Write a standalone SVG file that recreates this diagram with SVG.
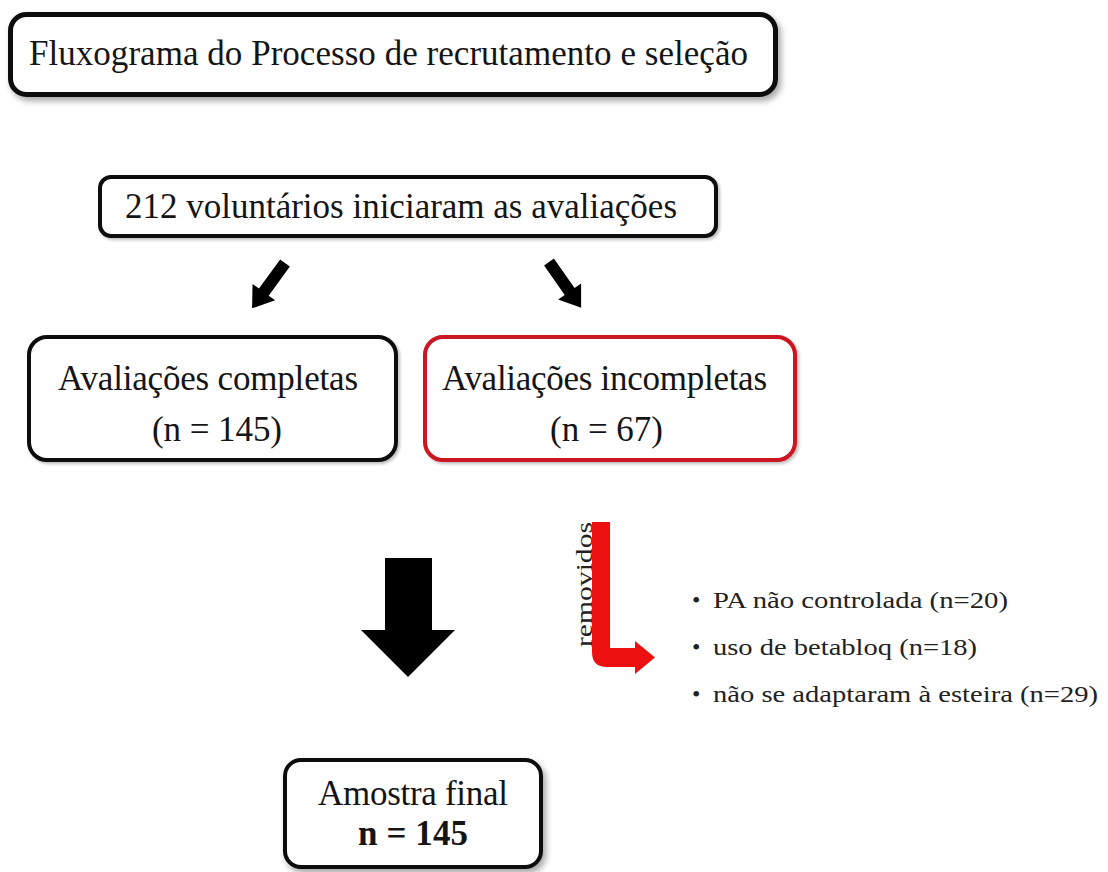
<svg xmlns="http://www.w3.org/2000/svg" width="1108" height="872" viewBox="0 0 1108 872">
  <style>
    .box { fill: #ffffff; stroke: #111111; stroke-width: 4; }
    .red { fill: #ffffff; stroke: #cc1420; stroke-width: 4; }
    .t { font-family: "Liberation Serif", "Times New Roman", serif; font-size: 35px; fill: #151515; }
    .b { font-family: "Liberation Serif", "Times New Roman", serif; font-size: 24px; fill: #222222; }
    .arrow { fill: #000000; }
  </style>
  <defs>
    <filter id="sh" x="-10%" y="-20%" width="120%" height="150%">
      <feDropShadow dx="3" dy="4" stdDeviation="3" flood-color="#000000" flood-opacity="0.35"/>
    </filter>
    <filter id="shs" x="-10%" y="-20%" width="120%" height="150%">
      <feDropShadow dx="2" dy="2" stdDeviation="1.5" flood-color="#000000" flood-opacity="0.25"/>
    </filter>
  </defs>
  <rect width="1108" height="872" fill="#ffffff"/>

  <g id="title">
    <rect class="box" x="10.5" y="14.5" width="765" height="80" rx="16" style="stroke-width:5" filter="url(#sh)"/>
    <text class="t" x="29" y="65" textLength="719">Fluxograma do Processo de recrutamento e seleção</text>
  </g>

  <g id="voluntarios">
    <rect class="box" x="100" y="177" width="616" height="59" rx="11" filter="url(#shs)"/>
    <text class="t" x="125" y="218" textLength="552">212 voluntários iniciaram as avaliações</text>
  </g>

  <g id="completas">
    <rect class="box" x="29" y="337" width="367" height="123" rx="18" filter="url(#shs)"/>
    <text class="t" x="58" y="390" textLength="300">Avaliações completas</text>
    <text class="t" x="152" y="441" textLength="130">(n = 145)</text>
  </g>

  <g id="incompletas">
    <rect class="red" x="425" y="337" width="370" height="123" rx="18" filter="url(#shs)"/>
    <text class="t" x="442" y="390" textLength="325">Avaliações incompletas</text>
    <text class="t" x="550" y="441" textLength="113">(n = 67)</text>
  </g>

  <g id="removidos">
    <text class="b" transform="translate(592,647) rotate(-90)" x="0" y="0" textLength="125" lengthAdjust="spacingAndGlyphs">removidos</text>
  </g>

  <g id="motivos">
    <text class="b" x="692" y="608">•</text>
    <text class="b" x="713" y="608" textLength="295" lengthAdjust="spacingAndGlyphs">PA não controlada (n=20)</text>
    <text class="b" x="692" y="655">•</text>
    <text class="b" x="713" y="655" textLength="264" lengthAdjust="spacingAndGlyphs">uso de betabloq (n=18)</text>
    <text class="b" x="692" y="702">•</text>
    <text class="b" x="713" y="702" textLength="385" lengthAdjust="spacingAndGlyphs">não se adaptaram à esteira (n=29)</text>
  </g>

  <g id="amostra">
    <rect class="box" x="285" y="760" width="256" height="107" rx="16" filter="url(#sh)"/>
    <text class="t" x="318" y="805" textLength="190">Amostra final</text>
    <text class="t" x="358" y="845" style="font-weight:bold" textLength="110">n = 145</text>
  </g>

  <g id="connectors">
    <polygon class="arrow" transform="translate(285,263) rotate(36)" points="-6,0 6,0 6,36 14,36 0,56 -14,36 -6,36"/>
    <polygon class="arrow" transform="translate(549,262) rotate(-35)" points="-6,0 6,0 6,36 14,36 0,56 -14,36 -6,36"/>
    <polygon class="arrow" points="385,558 432,558 432,630 455,630 408,677 361,630 385,630"/>
    <path fill="#ec1010" d="M592,522 L610,522 L610,648 L635,648 L635,641 L655,657.5 L635,674 L635,667 L607,667 Q592,667 592,652 Z"/>
  </g>
</svg>
